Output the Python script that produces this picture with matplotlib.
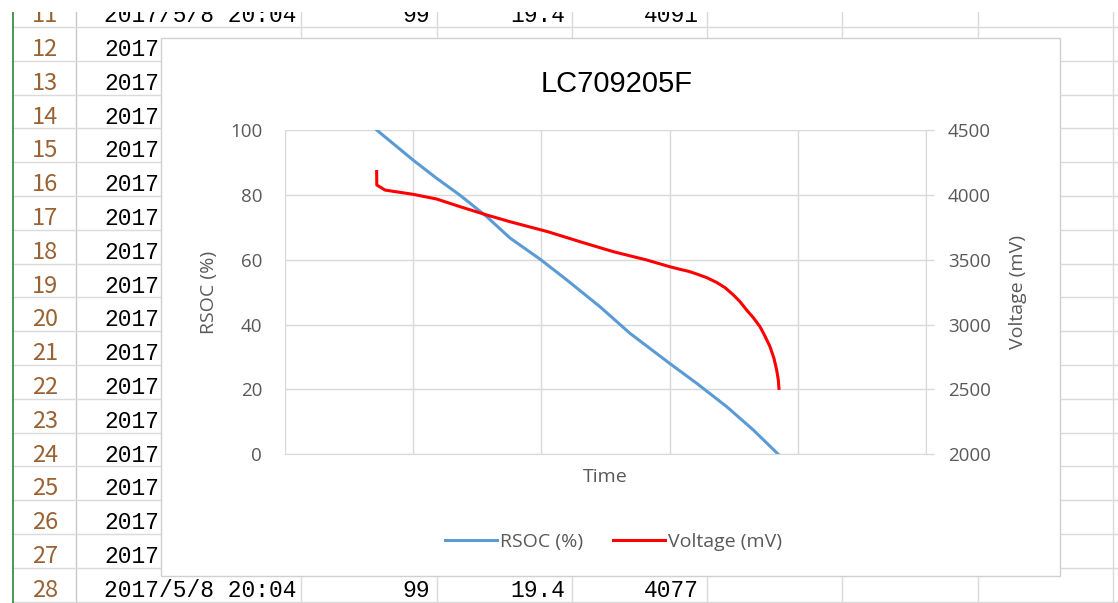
import matplotlib
matplotlib.use("Agg")
import matplotlib.pyplot as plt
from matplotlib.patches import Rectangle

# ---- chart data (x is in time-grid units 0..5) ----
t_rsoc = [0.715, 1.000, 1.183, 1.365, 1.573, 1.755, 1.992, 2.197, 2.457,
          2.691, 2.998, 3.211, 3.445, 3.653, 3.848]
rsoc = [100, 90.7, 85.1, 79.9, 73.3, 66.7, 60.1, 53.8, 45.5,
        37.3, 28.1, 21.9, 14.7, 7.5, 0]

t_volt = [0.715, 0.716, 0.780, 1.000, 1.183, 1.365, 1.573, 1.755, 2.050,
          2.301, 2.561, 2.821, 2.998, 3.081, 3.150, 3.211, 3.289, 3.367,
          3.432, 3.497, 3.549, 3.601, 3.653, 3.705, 3.744, 3.783, 3.814,
          3.835, 3.848, 3.853]
volt = [4180, 4076, 4037, 4004, 3968, 3909, 3845, 3793, 3716,
        3639, 3562, 3498, 3447, 3426, 3410, 3390, 3362, 3325,
        3285, 3229, 3177, 3112, 3053, 2984, 2911, 2830, 2740,
        2650, 2573, 2508]

rsoc_ticks = [0, 20, 40, 60, 80, 100]
volt_ticks = [2000, 2500, 3000, 3500, 4000, 4500]

# ---- spreadsheet behind the chart ----
row_numbers = list(range(11, 29))
date_text = "2017/5/8 20:04"
visible_values = {11: ["99", "19.4", "4091"], 28: ["99", "19.4", "4077"]}

W, H = 1118, 603
GRID = "#D9D9D9"
TXT = "#595959"

fig = plt.figure(figsize=(W / 100, H / 100), dpi=100)
bg = fig.add_axes([0, 0, 1, 1])
bg.set_xlim(0, W); bg.set_ylim(H, 0); bg.axis("off")

col_edges = [76, 301, 436.5, 572, 707, 842, 978, 1113]
row_h = 33.8
first_line = 27.0
for x in col_edges:
    bg.plot([x, x], [11.7, H], color="#C8C8C8" if x == 76 else "#DADADA", lw=1.0, zorder=1)
for k in range(18):
    y = first_line + row_h * k
    bg.plot([12, W], [y, y], color="#DADADA", lw=1.0, zorder=1)
bg.plot([12.5, 12.5], [11.7, H], color="#3E8E4F", lw=1.3, zorder=1)

cell_font = dict(fontsize=16.5, family="Liberation Mono", color="black", zorder=2)
for i, r in enumerate(row_numbers):
    top = first_line + row_h * (i - 1)
    base = top + 29
    bg.text(45, base, str(r), ha="center", va="baseline", fontsize=17,
            family="Noto Sans CJK JP", color="#9A6232", zorder=2)
    if r in visible_values:
        bg.text(297, base, date_text, ha="right", va="baseline", **cell_font)
        for right, s in zip([430, 565, 699], visible_values[r]):
            bg.text(right, base, s, ha="right", va="baseline", **cell_font)
    else:
        # the rest of the date is hidden behind the chart
        bg.text(104.5, base, date_text[:4], ha="left", va="baseline", **cell_font)

# white strip at the top that clips row 11
bg.add_patch(Rectangle((0, 0), W, 11.7, fc="white", ec="none", zorder=3))
# chart area
bg.add_patch(Rectangle((161, 38.3), 899, 537.7, fc="white", ec="#D0D0D0", lw=1.0, zorder=4))
bg.text(617, 84, "LC709205F", ha="center", va="center", fontsize=21,
        family="Liberation Sans", color="black", zorder=5)

# ---- the chart itself ----
L, R, T, B = 285, 926, 130, 454.3
ax = fig.add_axes([L / W, 1 - B / H, (R - L) / W, (B - T) / H])
ax.set_facecolor("none")
ax.set_xlim(0, 5)
ax.set_ylim(0, 100)
ax.set_xticks(range(6))
ax.set_yticks(rsoc_ticks)
ax.set_xticklabels([])
ax.grid(True, color=GRID, lw=1.0)
ax.set_axisbelow(True)
for s in ["top", "left", "right"]:
    ax.spines[s].set_visible(False)
ax.spines["bottom"].set_color(GRID)
ax.tick_params(axis="both", length=0)
ax.tick_params(axis="y", pad=16.5, labelsize=13.5, labelcolor=TXT)
for lab in ax.get_yticklabels():
    lab.set_family("Open Sans")

line1, = ax.plot(t_rsoc, rsoc, color="#5B9BD5", lw=2.2, label="RSOC (%)")

ax2 = ax.twinx()
ax2.set_ylim(2000, 4500)
ax2.set_yticks(volt_ticks)
for s in ["top", "left", "bottom"]:
    ax2.spines[s].set_visible(False)
ax2.spines["right"].set_color(GRID)
ax2.tick_params(axis="y", length=5.8, width=1.0, color=GRID, pad=10,
                labelsize=13.5, labelcolor=TXT, labelleft=False, left=False)
for lab in ax2.get_yticklabels():
    lab.set_family("Open Sans")
line2, = ax2.plot(t_volt, volt, color="#FF0000", lw=2.2, label="Voltage (mV)")

ax.set_xlabel("Time", fontsize=14, color=TXT, family="Open Sans", va="center")
ax.xaxis.set_label_coords(0.5, -(477 - B) / (B - T))
ax.set_ylabel("RSOC (%)", fontsize=14, color=TXT, family="Open Sans", va="center")
ax.yaxis.set_label_coords((209 - L) / (R - L), 0.5)
ax2.set_ylabel("Voltage (mV)", fontsize=14, color=TXT, family="Open Sans", va="center")
ax2.yaxis.set_label_coords((1018 - L) / (R - L), 0.5)

fig.legend([line1, line2], ["RSOC (%)", "Voltage (mV)"], loc="center",
           bbox_to_anchor=(613.5 / W, 1 - 541.7 / H), ncol=2, frameon=False,
           prop={"family": "Open Sans", "size": 14}, labelcolor=TXT,
           handlelength=2.68, handletextpad=0.15, columnspacing=1.5)

fig.savefig("out.png", dpi=100)
